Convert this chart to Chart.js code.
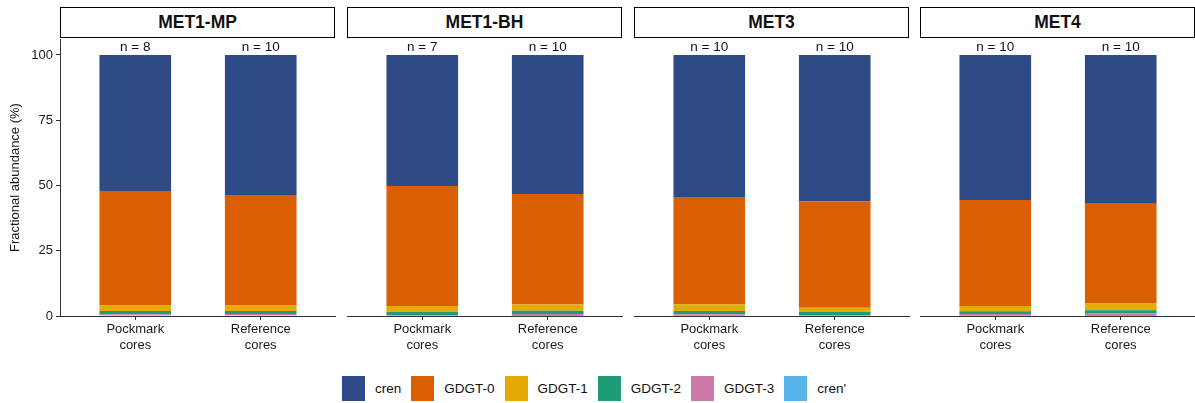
<!DOCTYPE html>
<html>
<head>
<meta charset="utf-8">
<script src="https://cdn.jsdelivr.net/npm/chart.js@4.4.1/dist/chart.umd.min.js"></script>
<style>
    body { margin: 0; width: 1195px; height: 403px; overflow: hidden; background: #fff; font-family: "Liberation Sans", Arial, sans-serif; }
    .strip { position: absolute; top: 7px; height: 29px; border: 1.3px solid #000; font-weight: bold; font-size: 17.5px; text-align: center; line-height: 29px; color: #111; }
    canvas { position: absolute; top: 39px; }
    #legend { position: absolute; left: 342px; top: 376px; display: flex; align-items: center; font-size: 13.5px; color: #111; }
    #legend .sw { width: 23px; height: 25px; margin-right: 10px; }
    #legend .lab { margin-right: 10px; }
</style>
</head>
<body>
<div id="legend"></div>
<script>
// data (%, order: MET1-MP P/R, MET1-BH P/R, MET3 P/R, MET4 P/R)
const sites = ["MET1-MP", "MET1-BH", "MET3", "MET4"];
const categories = [["Pockmark", "cores"], ["Reference", "cores"]];
const nCounts = [[8, 10], [7, 10], [10, 10], [10, 10]];
const yTicks = [0, 25, 50, 75, 100];

const cren = [52.1, 53.7, 50.2, 53.3, 54.4, 56.0, 55.6, 56.7];
const gdgt0 = [43.7, 42.1, 46.0, 42.3, 41.1, 40.8, 40.6, 38.5];
const gdgt1 = [2.3, 2.3, 2.2, 2.4, 2.6, 1.7, 2.0, 2.6];
const gdgt2 = [1.2, 1.1, 1.2, 1.2, 1.2, 1.2, 1.0, 1.2];
const gdgt3 = [0.3, 0.4, 0.2, 0.4, 0.4, 0.2, 0.5, 0.6];
const crenPrime = [0.4, 0.4, 0.2, 0.4, 0.3, 0.1, 0.3, 0.4];

// legend order (top of stack first)
const series = [
    { name: "cren", values: cren, color: "#2E4A87" },
    { name: "GDGT-0", values: gdgt0, color: "#DA5F02" },
    { name: "GDGT-1", values: gdgt1, color: "#E6AB02" },
    { name: "GDGT-2", values: gdgt2, color: "#1B9E77" },
    { name: "GDGT-3", values: gdgt3, color: "#CC79A7" },
    { name: "cren'", values: crenPrime, color: "#56B4E9" },
];

const panelLeft = [60, 347, 634, 920];
const panelWidth = 276;
const axisColor = "#333";
const font = { family: "'Liberation Sans', Arial, sans-serif", size: 13 };

// n = ... labels above each bar
const nLabels = {
    id: "nLabels",
    afterDatasetsDraw(chart, args, opts) {
        const { ctx, scales } = chart;
        ctx.save();
        ctx.font = "13.5px 'Liberation Sans', Arial, sans-serif";
        ctx.fillStyle = "#111";
        ctx.textAlign = "center";
        ctx.textBaseline = "bottom";
        opts.counts.forEach((n, i) => {
            ctx.fillText("n = " + n, scales.x.getPixelForValue(i + 1), scales.y.getPixelForValue(100) - 1);
        });
        ctx.restore();
    },
};

sites.forEach((site, s) => {
    const strip = document.createElement("div");
    strip.className = "strip";
    strip.style.left = panelLeft[s] + "px";
    strip.style.width = (panelWidth - 3) + "px";
    strip.textContent = site;
    document.body.appendChild(strip);

    const first = s === 0;
    const canvas = document.createElement("canvas");
    const left = first ? 0 : panelLeft[s];
    const width = first ? panelLeft[0] + panelWidth : panelWidth;
    canvas.width = width;
    canvas.height = 321;
    canvas.style.left = left + "px";
    document.body.appendChild(canvas);

    const datasets = series.slice().reverse().map((ser) => ({
        label: ser.name,
        data: [0, 1].map((c) => ({ x: c + 1, y: ser.values[s * 2 + c] })),
        backgroundColor: ser.color,
        borderWidth: 0,
        barPercentage: 0.571,
        categoryPercentage: 1,
    }));

    new Chart(canvas, {
        type: "bar",
        data: { datasets: datasets },
        options: {
            responsive: false,
            animation: false,
            layout: { padding: 0 },
            scales: {
                x: {
                    type: "linear",
                    stacked: true,
                    offset: false,
                    min: 0.4,
                    max: 2.6,
                    afterBuildTicks: (axis) => { axis.ticks = [{ value: 1 }, { value: 2 }]; },
                    afterFit: (axis) => { axis.height = 44; axis.paddingLeft = 0; axis.paddingRight = 0; },
                    ticks: {
                        font: font,
                        color: "#1a1a1a",
                        padding: 2,
                        maxRotation: 0,
                        callback: (v) => categories[v - 1],
                    },
                    grid: { offset: false, drawOnChartArea: false, drawTicks: true, tickLength: 4, color: axisColor },
                    border: { display: true, color: axisColor, width: 1 },
                },
                y: {
                    display: first,
                    stacked: true,
                    min: 0,
                    max: 106.1,
                    afterBuildTicks: (axis) => { axis.ticks = yTicks.map((v) => ({ value: v })); },
                    afterFit: (axis) => { axis.width = first ? 60 : 0; axis.paddingTop = 0; axis.paddingBottom = 0; },
                    ticks: { font: font, color: "#1a1a1a", padding: 3 },
                    grid: { drawOnChartArea: false, drawTicks: true, tickLength: 4, color: axisColor },
                    border: { display: true, color: axisColor, width: 1 },
                    title: {
                        display: true,
                        text: "Fractional abundance (%)",
                        font: font,
                        color: "#1a1a1a",
                        padding: { top: 8, bottom: 0 },
                    },
                },
            },
            plugins: {
                legend: { display: false },
                tooltip: { enabled: false },
                nLabels: { counts: nCounts[s] },
            },
        },
        plugins: [nLabels],
    });
});

// legend
const legend = document.getElementById("legend");
series.forEach((ser) => {
    const sw = document.createElement("div");
    sw.className = "sw";
    sw.style.background = ser.color;
    const lab = document.createElement("span");
    lab.className = "lab";
    lab.textContent = ser.name;
    legend.appendChild(sw);
    legend.appendChild(lab);
});
</script>
</body>
</html>
